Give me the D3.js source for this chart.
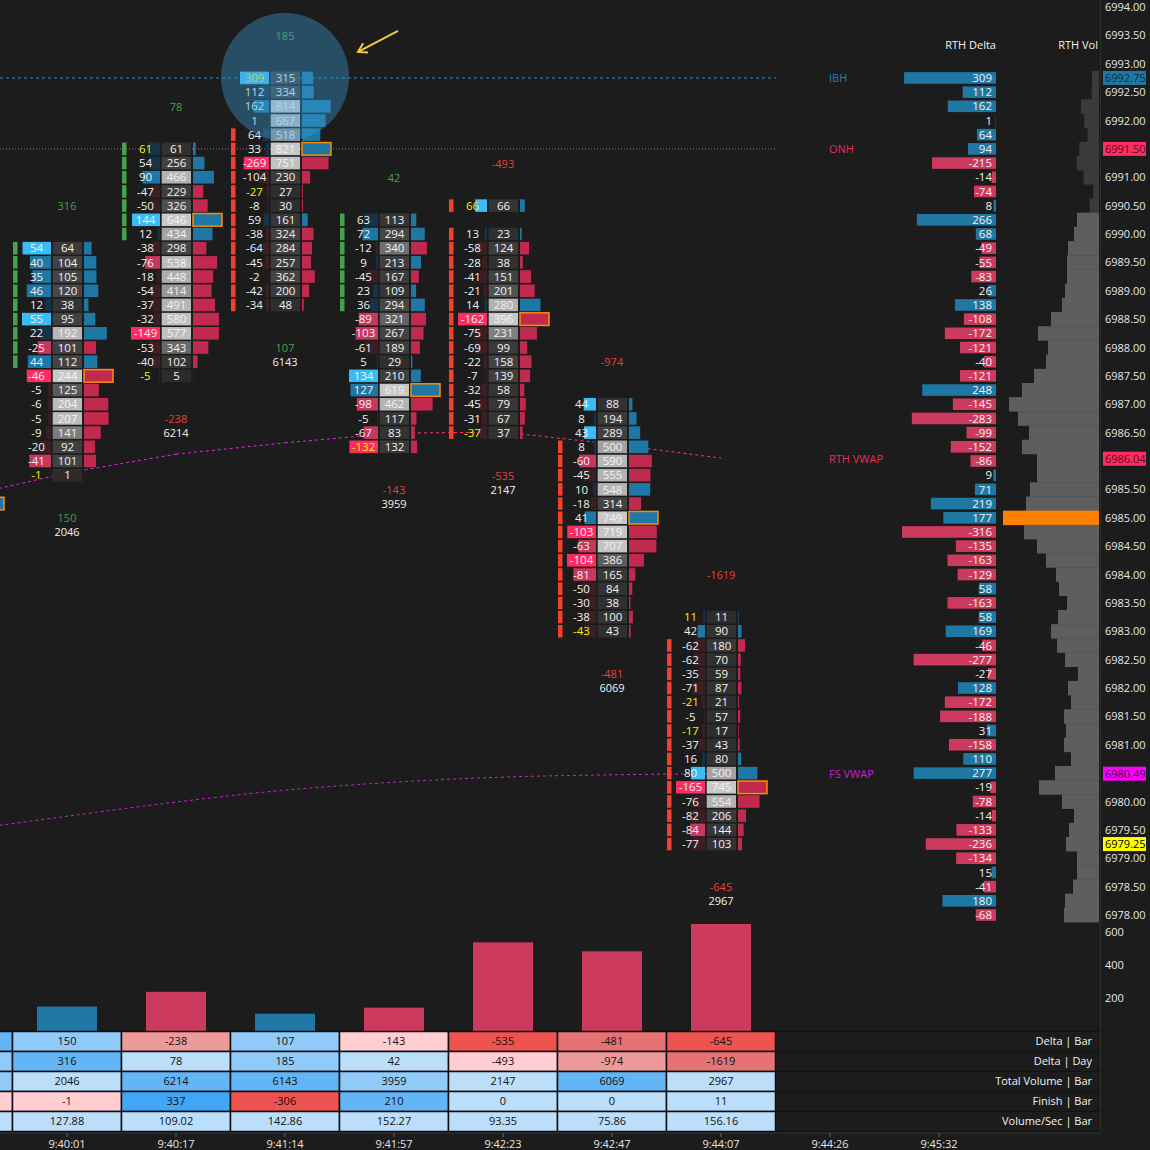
<!DOCTYPE html>
<html><head><meta charset="utf-8">
<script src="https://cdn.jsdelivr.net/npm/d3@7"></script>
<style>
html,body{margin:0;padding:0;background:#1c1c1c;}
svg{display:block;font-family:"Open Sans",sans-serif;}
</style></head><body>
<svg id="c" width="1150" height="1150"></svg>
<script>
// ---------------- DATA ----------------
const times = ["9:40:01","9:40:17","9:41:14","9:41:57","9:42:23","9:42:47","9:44:07","9:44:26","9:45:32"];
const barTopPrices = [6989.75, 6991.50, 6992.75, 6990.25, 6990.50, 6987.00, 6983.25];
// per bar, from top price downward in 0.25 steps; null = no trades at that price
const barDeltas = [
  [54,40,35,46,12,55,22,-25,44,-46,-5,-6,-5,-9,-20,-41,-1],
  [61,54,90,-47,-50,144,12,-38,-76,-18,-54,-37,-32,-149,-53,-40,-5],
  [309,112,162,1,64,33,-269,-104,-27,-8,59,-38,-64,-45,-2,-42,-34],
  [63,72,-12,9,-45,23,36,-89,-103,-61,5,134,127,-98,-5,-67,-132],
  [66,null,13,-58,-28,-41,-21,14,-162,-75,-69,-22,-7,-32,-45,-31,-37],
  [44,8,43,8,-60,-45,10,-18,41,-103,-63,-104,-81,-50,-30,-38,-43],
  [11,42,-62,-62,-35,-71,-21,-5,-17,-37,16,80,-165,-76,-82,-84,-77]
];
const barVolumes = [
  [64,104,105,120,38,95,192,101,112,244,125,204,207,141,92,101,1],
  [61,256,466,229,326,646,434,298,538,448,414,491,580,577,343,102,5],
  [315,334,814,667,518,821,751,230,27,30,161,324,284,257,362,200,48],
  [113,294,340,213,167,109,294,321,267,189,29,210,619,462,117,83,132],
  [66,null,23,124,38,151,201,280,396,231,99,158,139,58,79,67,37],
  [88,194,289,500,590,555,548,314,749,719,707,386,165,84,38,100,43],
  [11,90,180,70,59,87,21,57,17,43,80,500,745,554,206,144,103]
];
const barOpens  = [6987.75, 6990.00, 6991.75, 6988.75, 6990.50, 6986.25, 6982.75];
const barCloses = [6989.75, 6991.50, 6988.75, 6990.25, 6986.50, 6983.00, 6979.25];
const deltaPerBar = [150,-238,107,-143,-535,-481,-645];
const deltaPerDay = [316,78,185,42,-493,-974,-1619];
const totalVolPerBar = [2046,6214,6143,3959,2147,6069,2967];
const finishPerBar = [-1,337,-306,210,0,0,11];
const volPerSec = [127.88,109.02,142.86,152.27,93.35,75.86,156.16];
// previous bar (almost entirely off-screen to the left)
const prevBarStats = [230,166,4200,-3,120];
const prevBarPocPrice = 6985.25;
// VWAP values: previous bar followed by the 7 visible bars
const rthVwap = [6985.35,6985.79,6986.12,6986.32,6986.49,6986.51,6986.30,6986.05];
const fsVwap  = [6979.48,6979.74,6979.99,6980.20,6980.34,6980.43,6980.47,6980.49];
// session profile, from 6992.75 down to 6978.00
const profileTopPrice = 6992.75;
const rthDelta = [309,112,162,1,64,94,-215,-14,-74,8,
  266,68,-49,-55,-83,26,138,-108,-172,-121,
  -40,-121,248,-145,-283,-99,-152,-86,9,71,
  219,177,-316,-135,-163,-129,58,-163,58,169,
  -46,-277,-27,128,-172,-188,31,-158,110,277,
  -19,-78,-14,-133,-236,-134,15,-41,180,-68];
const rthVol = [315,334,814,667,518,882,1007,696,256,422,
  990,1125,1395,1440,1440,1530,1665,2160,2745,2295,
  2385,2925,3465,4050,3645,3150,3465,2790,2790,3105,
  3285,4320,3375,2790,2385,1935,1800,1440,1845,2160,
  1890,1530,945,1395,1260,1575,1485,1575,1260,1980,
  2700,1665,1125,1350,1485,990,990,1170,1530,1575];
const valueAreaHigh = 6990.25;
const markerNames  = ["IBH","ONH","RTH VWAP","FS VWAP"];
const markerPrices = [6992.75, 6991.50, 6986.04, 6980.49];
const lastPrice = 6979.25;
const tableRowNames = ["Delta | Bar","Delta | Day","Total Volume | Bar","Finish | Bar","Volume/Sec | Bar"];
const deltaAxisTicks = [200,400,600];

// ---------------- SCALES ----------------
const svg = d3.select("#c");
svg.append("rect").attr("width",1150).attr("height",1150).attr("fill","#1c1c1c");
const F = '"Open Sans", sans-serif';

const yP = d3.scaleLinear().domain([6994, 6978]).range([7, 915]);
const rowH = Math.abs(yP(6978) - yP(6978.25));
const xB = d3.scaleBand().domain(times).range([12.5, 12.5 + 109*times.length]).padding(0);
const bw = xB.bandwidth();
const cx = i => (i >= 0 ? xB(times[i]) : xB(times[0]) + i*xB.step()) + bw/2;

const col = {
  green:"#45a14a", red:"#f2402f",
  pos:["#163449","#1f77a4","#3bbcf4"], neg:["#3b1f24","#c8385c","#ff2b63"],
  histPos:"#1f77a4", histNeg:"#c2294f", poc:"#ff8c00",
  profPos:"#1f77a4", profNeg:"#cc3a5e",
  lblPos:"#45a14a", lblNeg:"#e8403a"
};
const gray = d3.scaleLinear().domain([0,0.5,0.52,0.7,1]).range(["#2c2c2c","#474747","#646464","#b0b0b0","#c8c8c8"]);

// ---------------- LEVEL LINES ----------------
const main = svg.append("g");
main.append("line").attr("x1",0).attr("x2",776).attr("y1",yP(markerPrices[0])).attr("y2",yP(markerPrices[0]))
  .attr("stroke","#1e8fd0").attr("stroke-width",1).attr("stroke-dasharray","3,3");
main.append("line").attr("x1",0).attr("x2",776).attr("y1",yP(markerPrices[1])).attr("y2",yP(markerPrices[1]))
  .attr("stroke","#b0707e").attr("stroke-width",1).attr("stroke-dasharray","1,2");

// VWAP lines
const vIdx = d3.range(-1, 7);
const rthPts = vIdx.map((i,k)=>[cx(i), yP(rthVwap[k])]);
for (let k=0;k<rthPts.length-1;k++){
  const rising = rthVwap[k+1]-rthVwap[k] > 0.05;
  main.append("line").attr("x1",rthPts[k][0]).attr("y1",rthPts[k][1]).attr("x2",rthPts[k+1][0]).attr("y2",rthPts[k+1][1])
    .attr("stroke", rising ? "#e524e5" : "#ff3370").attr("stroke-width",1).attr("stroke-dasharray","3,3");
}
main.append("path").attr("d", d3.line().curve(d3.curveMonotoneX)(vIdx.map((i,k)=>[cx(i), yP(fsVwap[k])])))
  .attr("fill","none").attr("stroke","#d11fd1").attr("stroke-width",1).attr("stroke-dasharray","3,3");

// ---------------- FOOTPRINT BARS ----------------
const cellH = rowH - 1.6;
const fs = "11.5px";
// previous bar POC (only its histogram end is visible)
{
  const c = cx(-1);
  main.append("rect").attr("x", c+17).attr("y", yP(prevBarPocPrice)-cellH/2).attr("width",29).attr("height",cellH)
    .attr("fill",col.histPos).attr("stroke",col.poc).attr("stroke-width",1.5);
}
barDeltas.forEach((deltas, i) => {
  const c = cx(i);
  const g = main.append("g");
  const rows = deltas.map((d,k)=>({price: barTopPrices[i]-k*0.25, delta:d, vol: barVolumes[i][k]})).filter(r=>r.delta!==null);
  const posMax = d3.max(rows, r=>Math.max(r.delta,0));
  const negMin = d3.min(rows, r=>Math.min(r.delta,0));
  const absMax = d3.max(rows, r=>Math.abs(r.delta));
  const volMax = d3.max(rows, r=>r.vol);
  const wD = d3.scaleLinear().domain([0, absMax]).range([0, 29]);
  const wV = d3.scaleLinear().domain([0, volMax]).range([0, 29]);
  const lo = Math.min(barOpens[i], barCloses[i]), hi = Math.max(barOpens[i], barCloses[i]);
  const up = barCloses[i] > barOpens[i];
  rows.forEach(r => {
    const y = yP(r.price);
    if (r.price >= lo - 1e-9 && r.price <= hi + 1e-9)
      g.append("rect").attr("x", c-54).attr("y", y-cellH/2).attr("width",4.5).attr("height",cellH).attr("fill", up?col.green:col.red);
    const ratio = r.delta >= 0 ? (posMax ? r.delta/posMax : 0) : r.delta/negMin;
    const lvl = ratio >= 0.97 ? 2 : ratio >= 0.5 ? 1 : 0;
    const w = wD(Math.abs(r.delta));
    g.append("rect").attr("x", c-16-w).attr("y", y-cellH/2).attr("width", w).attr("height", cellH)
      .attr("fill", r.delta >= 0 ? col.pos[lvl] : col.neg[lvl]);
    g.append("text").attr("x", c-30.5).attr("y", y).attr("dy","0.36em").attr("text-anchor","middle")
      .attr("font-size",fs).attr("font-family",F)
      .attr("fill", Math.abs(r.delta)/r.vol >= 0.95 ? "#f4f400" : "#f2f2f2").text(String(r.delta));
    g.append("rect").attr("x", c-14.3).attr("y", y-cellH/2).attr("width", 29.3).attr("height", cellH)
      .attr("fill", gray(r.vol/volMax));
    g.append("text").attr("x", c+0.5).attr("y", y).attr("dy","0.36em").attr("text-anchor","middle")
      .attr("font-size",fs).attr("font-family",F).attr("fill","#f2f2f2").text(String(r.vol));
    const isPoc = r.vol === volMax;
    g.append("rect").attr("x", c+17).attr("y", y-cellH/2).attr("width", wV(r.vol)).attr("height", cellH)
      .attr("fill", r.delta >= 0 ? col.histPos : col.histNeg)
      .attr("stroke", isPoc ? col.poc : "none").attr("stroke-width", 1.5);
  });
  const topY = yP(rows[0].price), botY = yP(rows[rows.length-1].price);
  g.append("text").attr("x", c).attr("y", topY-42).attr("dy","0.36em").attr("text-anchor","middle")
    .attr("font-size","11px").attr("font-family",F).attr("fill", deltaPerDay[i]>=0?col.lblPos:col.lblNeg).text(String(deltaPerDay[i]));
  g.append("text").attr("x", c).attr("y", botY+43).attr("dy","0.36em").attr("text-anchor","middle")
    .attr("font-size","11px").attr("font-family",F).attr("fill", deltaPerBar[i]>=0?col.lblPos:col.lblNeg).text(String(deltaPerBar[i]));
  g.append("text").attr("x", c).attr("y", botY+57).attr("dy","0.36em").attr("text-anchor","middle")
    .attr("font-size","11px").attr("font-family",F).attr("fill","#f2f2f2").text(String(totalVolPerBar[i]));
});

// highlight circle + arrow (annotation around the IBH bar)
{
  const c = cx(2), y = yP(markerPrices[0]) - 1;
  main.append("circle").attr("cx", c).attr("cy", y).attr("r", 64).attr("fill","rgba(60,160,220,0.38)");
  const tip = [c+73, y-25], tail = [c+113, y-46];
  const ang = Math.atan2(tail[1]-tip[1], tail[0]-tip[0]);
  const wing = a => [tip[0]+10*Math.cos(ang+a), tip[1]+10*Math.sin(ang+a)];
  main.append("line").attr("x1",tail[0]).attr("y1",tail[1]).attr("x2",tip[0]).attr("y2",tip[1]).attr("stroke","#f2c744").attr("stroke-width",2);
  main.append("path").attr("d", d3.line()([wing(0.55), tip, wing(-0.55)])).attr("fill","none").attr("stroke","#f2c744").attr("stroke-width",2);
}

// ---------------- SESSION PROFILE ----------------
const prof = svg.append("g");
const profRows = rthDelta.map((d,k)=>({price: profileTopPrice - k*0.25, delta:d, vol: rthVol[k]}));
const wPD = d3.scaleLinear().domain([0, 316]).range([0, 94]);
const wPV = d3.scaleLinear().domain([0, d3.max(rthVol)]).range([0, 96]);
const pocVol = d3.max(rthVol);
profRows.forEach(r=>{
  const y = yP(r.price);
  const w = wPD(Math.abs(r.delta));
  prof.append("rect").attr("x", 996-w).attr("y", y-5.8).attr("width", w).attr("height", 11.6)
    .attr("fill", r.delta>=0?col.profPos:col.profNeg);
  prof.append("text").attr("x", 992).attr("y", y).attr("dy","0.36em").attr("text-anchor","end")
    .attr("font-size","11.5px").attr("font-family",F).attr("fill","#f2f2f2").text(String(r.delta));
  const wv = wPV(r.vol);
  prof.append("rect").attr("x", 1099-wv).attr("y", y-rowH/2).attr("width", wv).attr("height", rowH+0.3)
    .attr("fill", r.vol===pocVol ? "#ff8000" : (r.price > valueAreaHigh ? "#3a3a3a" : "#5e5e5e"));
});
prof.append("text").attr("x",996).attr("y",45).attr("dy","0.36em").attr("text-anchor","end").attr("font-size","11px").attr("font-family",F).attr("fill","#f2f2f2").text("RTH Delta");
prof.append("text").attr("x",1098).attr("y",45).attr("dy","0.36em").attr("text-anchor","end").attr("font-size","11px").attr("font-family",F).attr("fill","#f2f2f2").text("RTH Vol");
const markerColors = ["#2a7fb4","#e0305a","#e0305a","#c81fd0"];
markerNames.forEach((n,k)=>{
  prof.append("text").attr("x",829).attr("y",yP(markerPrices[k])).attr("dy","0.36em").attr("font-size","11px").attr("font-family",F)
    .attr("fill",markerColors[k]).text(n);
});

// ---------------- PRICE AXIS ----------------
svg.append("line").attr("x1",1100.5).attr("x2",1100.5).attr("y1",0).attr("y2",1132).attr("stroke","#2b2b2b");
const boxPrices = markerPrices.concat([lastPrice]);
const tickVals = d3.range(6978, 6994.01, 0.5).filter(p => !boxPrices.some(b => Math.abs(yP(b)-yP(p)) < 10 && Math.abs(b-p) > 1e-6));
const pAxis = svg.append("g").attr("transform","translate(1100,0)")
  .call(d3.axisRight(yP).tickValues(tickVals).tickFormat(d3.format(".2f")).tickSize(0).tickPadding(5));
pAxis.select(".domain").remove();
pAxis.selectAll("text").attr("fill","#e6e6e6").attr("font-size","11px").attr("font-family",F);
const boxColors = [["#1f77a4","#0d2c40"],["#ff2d62","#5a0a1c"],["#ff2d62","#5a0a1c"],["#ff00ff","#3a003a"],["#ffff00","#000000"]];
boxPrices.forEach((p,k)=>{
  const y = yP(p);
  svg.append("rect").attr("x",1103).attr("y",y-7).attr("width",43).attr("height",14).attr("fill",boxColors[k][0]);
  svg.append("text").attr("x",1105).attr("y",y).attr("dy","0.36em").attr("font-size","11px").attr("font-family",F)
    .attr("fill",boxColors[k][1]).text(p.toFixed(2));
});

// ---------------- DELTA HISTOGRAM (bottom) ----------------
const yD = d3.scaleLinear().domain([0, 600]).range([1031.5, 931.5]);
deltaPerBar.forEach((v,i)=>{
  svg.append("rect").attr("x", cx(i)-30).attr("y", yD(Math.abs(v))).attr("width",60).attr("height", yD(0)-yD(Math.abs(v)))
    .attr("fill", v>=0 ? col.profPos : col.profNeg);
});
const dAxis = svg.append("g").attr("transform","translate(1100,0)")
  .call(d3.axisRight(yD).tickValues(deltaAxisTicks).tickSize(0).tickPadding(5));
dAxis.select(".domain").remove();
dAxis.selectAll("text").attr("fill","#e6e6e6").attr("font-size","11px").attr("font-family",F);

// ---------------- TABLE ----------------
const tableVals = [deltaPerBar, deltaPerDay, totalVolPerBar, finishPerBar, volPerSec];
const tableMax = [[400,650],[500,2500],[12000,12000],[400,350],[700,700]];
const blues = ["#bbdefb","#90caf9","#64b5f6","#42a5f5"], reds = ["#ffcdd2","#ef9a9a","#e57373","#ef5350"];
const lvl = r => r>=0.8?3 : r>=0.5?2 : r>=0.25?1 : 0;
const tTop = 1031.5, tRow = 20;
const tbl = svg.append("g");
tableRowNames.forEach((name, r)=>{
  const y0 = tTop + r*tRow;
  tbl.append("line").attr("x1",776).attr("x2",1100).attr("y1",y0).attr("y2",y0).attr("stroke","#111");
  tbl.append("text").attr("x",1092).attr("y",y0+tRow/2).attr("dy","0.36em").attr("text-anchor","end")
    .attr("font-size","11px").attr("font-family",F).attr("fill","#f2f2f2").text(name);
  const vals = [prevBarStats[r]].concat(tableVals[r]);
  vals.forEach((v,k)=>{
    const i = k-1;
    const x0 = cx(i) - bw/2;
    const fill = v >= 0 ? blues[lvl(v/tableMax[r][0])] : reds[lvl(-v/tableMax[r][1])];
    tbl.append("rect").attr("x",x0).attr("y",y0).attr("width",bw).attr("height",tRow).attr("fill",fill)
      .attr("stroke","#0d0d0d").attr("stroke-width",1.5);
    if (i >= 0)
      tbl.append("text").attr("x",cx(i)).attr("y",y0+tRow/2).attr("dy","0.36em").attr("text-anchor","middle")
        .attr("font-size","11px").attr("font-family",F).attr("fill","#111")
        .text(r===4 ? v.toFixed(2) : String(v));
  });
});
tbl.append("line").attr("x1",776).attr("x2",1100).attr("y1",tTop+5*tRow).attr("y2",tTop+5*tRow).attr("stroke","#111");

// ---------------- TIME AXIS ----------------
svg.append("line").attr("x1",0).attr("x2",1100).attr("y1",1133).attr("y2",1133).attr("stroke","#333");
const tAxis = svg.append("g").attr("transform","translate(0,1133)")
  .call(d3.axisBottom(xB).tickSize(4).tickPadding(3));
tAxis.select(".domain").remove();
tAxis.selectAll("line").attr("stroke","#666");
tAxis.selectAll("text").attr("fill","#e6e6e6").attr("font-size","11px").attr("font-family",F);
</script>
</body></html>
